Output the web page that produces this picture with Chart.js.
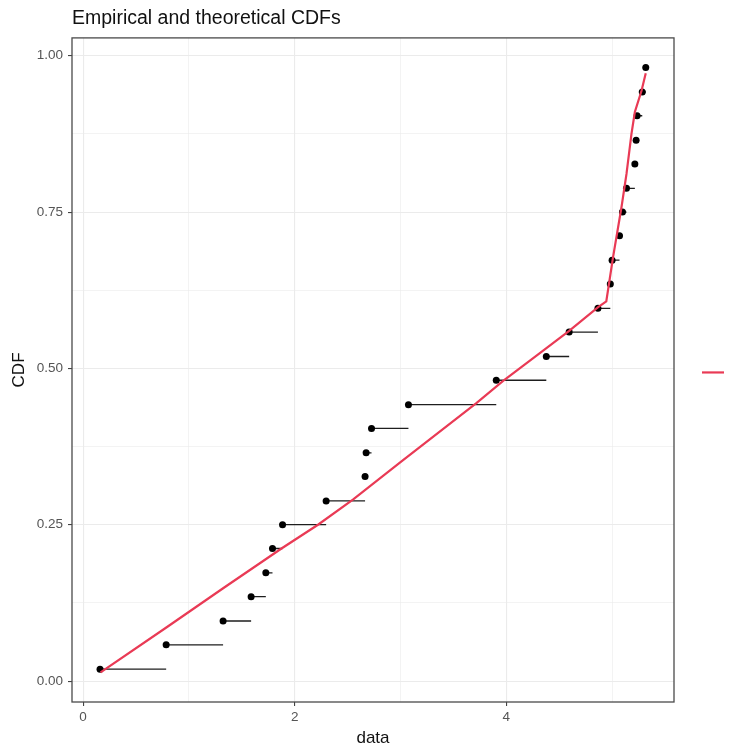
<!DOCTYPE html>
<html>
<head>
<meta charset="utf-8">
<script src="https://cdn.jsdelivr.net/npm/chart.js@4"></script>
<style>
html,body{margin:0;padding:0;background:#fff;}
#wrap{width:737px;height:749px;}
</style>
</head>
<body>
<div id="wrap"><canvas id="c" width="737" height="749"></canvas></div>
<script>
// Empirical CDF: sorted data values and plotting positions
const dataX = [0.160, 0.785, 1.323, 1.588, 1.727, 1.790, 1.885, 2.297, 2.665, 2.675, 2.726, 3.075, 3.905, 4.378, 4.594, 4.866, 4.983, 5.000, 5.070, 5.098, 5.136, 5.215, 5.227, 5.236, 5.285, 5.318];
const cdfY  = [0.019, 0.058, 0.096, 0.135, 0.173, 0.212, 0.250, 0.288, 0.327, 0.365, 0.404, 0.442, 0.481, 0.519, 0.558, 0.596, 0.635, 0.673, 0.712, 0.750, 0.788, 0.827, 0.865, 0.904, 0.942, 0.981];
// Theoretical CDF curve
const theoX = [0.165, 0.79, 1.32, 1.875, 2.22, 2.55, 3.00, 3.72, 3.97, 4.32, 4.594, 4.868, 4.945, 5.009, 5.089, 5.136, 5.183, 5.215, 5.278, 5.318];
const theoY = [0.014, 0.086, 0.148, 0.212, 0.250, 0.290, 0.350, 0.445, 0.480, 0.525, 0.560, 0.598, 0.607, 0.678, 0.758, 0.811, 0.875, 0.910, 0.944, 0.972];
// Axis ticks
const xTicks = [0, 1, 2, 3, 4, 5];
const xLabelled = [0, 2, 4];
const yTicks = [0, 0.125, 0.25, 0.375, 0.5, 0.625, 0.75, 0.875, 1];
const yLabelled = [0, 0.25, 0.5, 0.75, 1];
const titleText = 'Empirical and theoretical CDFs';
const xTitle = 'data';
const yTitle = 'CDF';

const FONT = "'Liberation Sans', Arial, sans-serif";

const points = dataX.map((x, i) => ({x: x, y: cdfY[i]}));
const segs = [];
for (let i = 0; i < dataX.length - 1; i++) {
  segs.push({x: dataX[i], y: cdfY[i]});
  segs.push({x: dataX[i + 1], y: cdfY[i]});
  segs.push({x: dataX[i + 1], y: null});
}
const theo = theoX.map((x, i) => ({x: x, y: theoY[i]}));

const RED = '#E93A55';

const framePlugin = {
  id: 'frame',
  afterDraw(chart) {
    const a = chart.chartArea, ctx = chart.ctx;
    ctx.save();
    ctx.strokeStyle = '#4a4a4a';
    ctx.lineWidth = 1.3;
    ctx.strokeRect(a.left, a.top, a.right - a.left, a.bottom - a.top);
    // legend key on the right
    const ly = (a.top + a.bottom) / 2 + 2.5;
    ctx.strokeStyle = RED;
    ctx.lineWidth = 2.2;
    ctx.beginPath();
    ctx.moveTo(a.right + 28, ly);
    ctx.lineTo(a.right + 50, ly);
    ctx.stroke();
    ctx.restore();
  }
};

new Chart(document.getElementById('c'), {
  type: 'scatter',
  data: {
    datasets: [
      {
        type: 'line', data: theo, borderColor: RED, borderWidth: 2.2,
        pointRadius: 0, fill: false, tension: 0, order: 0
      },
      {
        type: 'scatter', data: points, backgroundColor: '#000', borderColor: '#000',
        pointRadius: 3.5, borderWidth: 0, order: 1
      },
      {
        type: 'line', data: segs, borderColor: '#1e1e1e', borderWidth: 1.3,
        pointRadius: 0, spanGaps: false, fill: false, order: 2
      }
    ]
  },
  options: {
    responsive: false,
    animation: false,
    devicePixelRatio: 1,
    layout: {padding: {top: 0, left: 0, right: 63, bottom: 0}},
    plugins: {
      legend: {display: false},
      tooltip: {enabled: false},
      title: {
        display: true, text: titleText, align: 'start', fullSize: false,
        color: '#111', font: {family: FONT, size: 19.5, weight: 'normal'},
        padding: {top: 7, bottom: 7.5}
      }
    },
    scales: {
      x: {
        type: 'linear', min: -0.105, max: 5.585,
        afterBuildTicks: s => { s.ticks = xTicks.map(v => ({value: v})); },
        afterFit: s => { s.height = 47; },
        border: {display: false},
        grid: {
          color: '#ebebeb',
          lineWidth: c => (c.tick && xLabelled.includes(c.tick.value)) ? 1.1 : 0.6,
          tickColor: c => (c.tick && xLabelled.includes(c.tick.value)) ? '#444' : 'rgba(0,0,0,0)',
          tickLength: 4, tickWidth: 1.1
        },
        ticks: {
          color: '#555', padding: 3, maxRotation: 0, autoSkip: false,
          font: {family: FONT, size: 13.5},
          callback: v => xLabelled.includes(v) ? String(v) : ''
        },
        title: {display: true, text: xTitle, color: '#111', font: {family: FONT, size: 17}, padding: {top: 0, bottom: 0}}
      },
      y: {
        type: 'linear', min: -0.0335, max: 1.0285,
        afterBuildTicks: s => { s.ticks = yTicks.map(v => ({value: v})); },
        afterFit: s => { s.width = 72; },
        border: {display: false},
        grid: {
          color: '#ebebeb',
          lineWidth: c => (c.tick && yLabelled.includes(c.tick.value)) ? 1.1 : 0.6,
          tickColor: c => (c.tick && yLabelled.includes(c.tick.value)) ? '#444' : 'rgba(0,0,0,0)',
          tickLength: 4, tickWidth: 1.1
        },
        ticks: {
          color: '#555', padding: 5, autoSkip: false,
          font: {family: FONT, size: 13.5},
          callback: v => yLabelled.includes(v) ? v.toFixed(2) : ''
        },
        title: {display: true, text: yTitle, color: '#111', font: {family: FONT, size: 17}, padding: {top: 9, bottom: 0}}
      }
    }
  },
  plugins: [framePlugin]
});
</script>
</body>
</html>
